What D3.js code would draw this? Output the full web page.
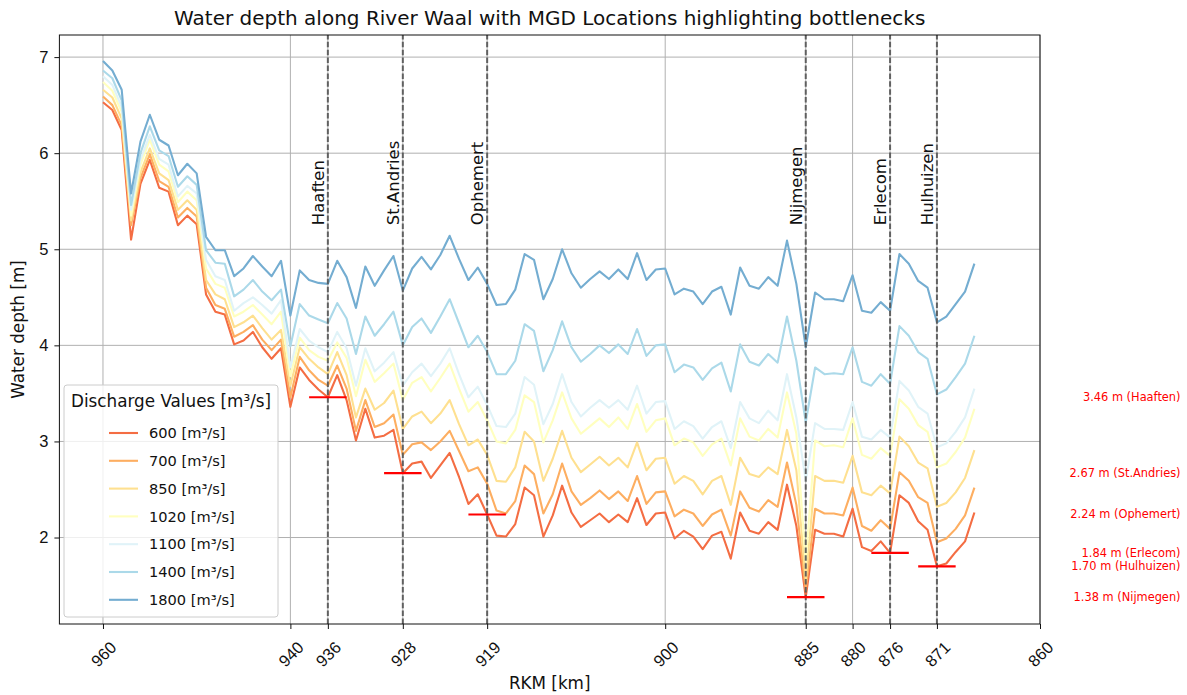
<!DOCTYPE html>
<html>
<head>
<meta charset="utf-8">
<script src="https://cdn.jsdelivr.net/npm/d3@7"></script>
<style>
    body { margin: 0; background: #fff; }
    svg { font-family: "DejaVu Sans", sans-serif; }
</style>
</head>
<body>
<div id="chart"></div>
<script>
'use strict';

// river kilometres, one point per km
const rkm = d3.range(960, 866, -1);

// water depth [m] per discharge
const d600 = [
    6.53, 6.45, 6.24, 5.10, 5.68, 5.93, 5.64, 5.60, 5.25, 5.35,
    5.26, 4.53, 4.35, 4.32, 4.01, 4.05, 4.14, 3.98, 3.86, 3.97,
    3.36, 3.77, 3.64, 3.54, 3.46, 3.69, 3.43, 3.01, 3.34, 3.04,
    3.06, 3.12, 2.67, 2.77, 2.79, 2.62, 2.75, 2.88, 2.63, 2.35,
    2.45, 2.24, 2.02, 2.01, 2.14, 2.52, 2.44, 2.01, 2.23, 2.54,
    2.26, 2.11, 2.18, 2.25, 2.16, 2.24, 2.16, 2.41, 2.13, 2.25,
    2.26, 1.99, 2.07, 2.01, 1.88, 2.02, 2.06, 1.78, 2.26, 2.07,
    2.04, 2.16, 2.08, 2.55, 2.12, 1.38, 2.08, 2.04, 2.04, 2.01,
    2.30, 1.90, 1.86, 1.96, 1.84, 2.44, 2.36, 2.17, 2.08, 1.70,
    1.73, 1.85, 1.96, 2.26
];
const d700 = [
    6.59, 6.50, 6.29, 5.25, 5.74, 5.99, 5.71, 5.65, 5.33, 5.43,
    5.34, 4.60, 4.42, 4.38, 4.09, 4.14, 4.21, 4.06, 3.95, 4.06,
    3.46, 3.88, 3.74, 3.64, 3.58, 3.79, 3.55, 3.11, 3.43, 3.15,
    3.19, 3.28, 2.86, 2.97, 2.99, 2.91, 3.00, 3.11, 2.90, 2.69,
    2.73, 2.56, 2.28, 2.25, 2.38, 2.75, 2.66, 2.25, 2.45, 2.77,
    2.48, 2.34, 2.41, 2.49, 2.40, 2.48, 2.38, 2.64, 2.35, 2.47,
    2.48, 2.22, 2.29, 2.25, 2.12, 2.24, 2.29, 2.02, 2.48, 2.31,
    2.27, 2.39, 2.32, 2.78, 2.34, 1.45, 2.30, 2.25, 2.25, 2.23,
    2.52, 2.12, 2.07, 2.18, 2.09, 2.68, 2.59, 2.42, 2.36, 1.95,
    1.99, 2.09, 2.23, 2.52
];
const d850 = [
    6.66, 6.58, 6.36, 5.30, 5.80, 6.05, 5.79, 5.72, 5.41, 5.51,
    5.41, 4.68, 4.53, 4.48, 4.19, 4.24, 4.31, 4.18, 4.06, 4.16,
    3.58, 3.98, 3.86, 3.77, 3.70, 3.93, 3.69, 3.25, 3.55, 3.33,
    3.40, 3.53, 3.13, 3.26, 3.31, 3.19, 3.29, 3.43, 3.18, 2.96,
    3.02, 2.86, 2.59, 2.58, 2.73, 3.10, 3.00, 2.59, 2.82, 3.11,
    2.83, 2.68, 2.76, 2.84, 2.75, 2.83, 2.73, 2.99, 2.70, 2.82,
    2.83, 2.56, 2.64, 2.59, 2.45, 2.59, 2.64, 2.34, 2.83, 2.66,
    2.63, 2.73, 2.66, 3.12, 2.70, 1.55, 2.64, 2.59, 2.59, 2.57,
    2.85, 2.47, 2.44, 2.54, 2.46, 3.05, 2.95, 2.78, 2.72, 2.32,
    2.36, 2.47, 2.62, 2.91
];
const d1020 = [
    6.74, 6.65, 6.43, 5.35, 5.88, 6.14, 5.88, 5.81, 5.49, 5.60,
    5.51, 4.80, 4.64, 4.60, 4.30, 4.35, 4.42, 4.32, 4.22, 4.35,
    3.68, 4.08, 3.95, 3.88, 3.84, 4.03, 3.87, 3.47, 3.85, 3.62,
    3.71, 3.81, 3.43, 3.61, 3.67, 3.52, 3.66, 3.81, 3.55, 3.31,
    3.41, 3.22, 3.00, 2.98, 3.12, 3.48, 3.41, 2.99, 3.22, 3.51,
    3.24, 3.08, 3.16, 3.24, 3.15, 3.25, 3.13, 3.39, 3.10, 3.22,
    3.24, 2.96, 3.03, 2.99, 2.85, 2.97, 3.03, 2.75, 3.24, 3.05,
    3.01, 3.13, 3.04, 3.51, 3.08, 1.75, 3.01, 2.95, 2.96, 2.94,
    3.24, 2.86, 2.82, 2.93, 2.85, 3.44, 3.34, 3.17, 3.10, 2.73,
    2.77, 2.89, 3.04, 3.34
];
const d1100 = [
    6.80, 6.71, 6.48, 5.41, 5.93, 6.19, 5.94, 5.88, 5.55, 5.66,
    5.58, 4.89, 4.72, 4.68, 4.36, 4.44, 4.50, 4.42, 4.33, 4.47,
    3.77, 4.17, 4.05, 3.98, 3.93, 4.14, 3.97, 3.58, 3.97, 3.73,
    3.82, 3.93, 3.58, 3.72, 3.81, 3.68, 3.81, 3.97, 3.70, 3.46,
    3.57, 3.38, 3.16, 3.15, 3.29, 3.67, 3.59, 3.18, 3.39, 3.70,
    3.41, 3.26, 3.35, 3.43, 3.35, 3.43, 3.33, 3.58, 3.29, 3.41,
    3.42, 3.13, 3.21, 3.16, 3.03, 3.15, 3.21, 2.93, 3.41, 3.24,
    3.19, 3.32, 3.22, 3.70, 3.25, 2.59, 3.19, 3.13, 3.13, 3.12,
    3.41, 3.05, 3.02, 3.12, 3.04, 3.63, 3.53, 3.36, 3.29, 2.94,
    2.98, 3.10, 3.25, 3.55
];
const d1400 = [
    6.86, 6.78, 6.55, 5.46, 6.00, 6.28, 6.03, 5.97, 5.65, 5.76,
    5.67, 4.99, 4.86, 4.85, 4.51, 4.58, 4.68, 4.56, 4.47, 4.58,
    3.99, 4.43, 4.31, 4.27, 4.23, 4.44, 4.28, 3.91, 4.30, 4.10,
    4.22, 4.35, 4.00, 4.19, 4.28, 4.13, 4.30, 4.48, 4.23, 3.98,
    4.10, 3.93, 3.70, 3.70, 3.84, 4.22, 4.15, 3.73, 3.95, 4.25,
    3.98, 3.83, 3.91, 4.00, 3.92, 4.01, 3.91, 4.17, 3.89, 4.00,
    4.01, 3.72, 3.80, 3.77, 3.64, 3.76, 3.82, 3.52, 4.01, 3.83,
    3.79, 3.91, 3.82, 4.30, 3.84, 3.20, 3.77, 3.70, 3.71, 3.70,
    3.98, 3.62, 3.58, 3.70, 3.60, 4.20, 4.10, 3.93, 3.86, 3.49,
    3.54, 3.67, 3.81, 4.10
];
const d1800 = [
    6.96, 6.86, 6.66, 5.58, 6.12, 6.40, 6.14, 6.08, 5.77, 5.89,
    5.79, 5.13, 4.99, 4.99, 4.72, 4.80, 4.93, 4.82, 4.72, 4.88,
    4.31, 4.78, 4.68, 4.65, 4.64, 4.88, 4.71, 4.39, 4.82, 4.62,
    4.78, 4.93, 4.57, 4.80, 4.92, 4.79, 4.94, 5.14, 4.90, 4.68,
    4.81, 4.64, 4.42, 4.43, 4.58, 4.95, 4.89, 4.48, 4.69, 5.00,
    4.75, 4.60, 4.69, 4.77, 4.69, 4.79, 4.69, 4.96, 4.68, 4.79,
    4.80, 4.53, 4.59, 4.56, 4.43, 4.56, 4.61, 4.32, 4.81, 4.62,
    4.59, 4.71, 4.62, 5.09, 4.64, 3.98, 4.55, 4.48, 4.48, 4.46,
    4.73, 4.36, 4.34, 4.45, 4.36, 4.95, 4.85, 4.67, 4.60, 4.24,
    4.30, 4.43, 4.56, 4.85
];

const discharges = [600, 700, 850, 1020, 1100, 1400, 1800];
const depths = [d600, d700, d850, d1020, d1100, d1400, d1800];
const colors = ['#f46d43', '#fdae61', '#fee090', '#ffffbf', '#e0f3f8', '#abd9e9', '#74add1'];

// MGD locations and their bottleneck depth (600 m3/s)
const locNames = ['Haaften', 'St.Andries', 'Ophemert', 'Nijmegen', 'Erlecom', 'Hulhuizen'];
const locKm = [936, 928, 919, 885, 876, 871];
const locDepth = [3.46, 2.67, 2.24, 1.38, 1.84, 1.70];

// right-hand summary, top to bottom
const noteOrder = [0, 1, 2, 4, 5, 3];

const xTicks = [960, 940, 936, 928, 919, 900, 885, 880, 876, 871, 860];
const yTicks = [2, 3, 4, 5, 6, 7];

const width = 1187;
const height = 695;
const margin = { left: 59.4, right: 147, top: 35, bottom: 71 };

const x = d3.scaleLinear()
    .domain([964.65, 860])
    .range([margin.left, width - margin.right]);

const y = d3.scaleLinear()
    .domain([1.10, 7.23])
    .range([height - margin.bottom, margin.top]);

const svg = d3.select('#chart').append('svg')
    .attr('width', width)
    .attr('height', height);

// grid
svg.append('g')
    .attr('class', 'grid')
    .selectAll('line.gx')
    .data(xTicks)
  .enter().append('line')
    .attr('x1', d => x(d))
    .attr('x2', d => x(d))
    .attr('y1', y.range()[0])
    .attr('y2', y.range()[1])
    .attr('stroke', '#b0b0b0')
    .attr('stroke-width', 1);

svg.select('g.grid')
    .selectAll('line.gy')
    .data(yTicks)
  .enter().append('line')
    .attr('x1', x.range()[0])
    .attr('x2', x.range()[1])
    .attr('y1', d => y(d))
    .attr('y2', d => y(d))
    .attr('stroke', '#b0b0b0')
    .attr('stroke-width', 1);

// depth lines
const line = d3.line()
    .x((d, i) => x(rkm[i]))
    .y(d => y(d));

svg.append('g')
    .attr('class', 'series')
    .selectAll('path')
    .data(depths)
  .enter().append('path')
    .attr('d', line)
    .attr('fill', 'none')
    .attr('stroke', (d, i) => colors[i])
    .attr('stroke-width', 2.1)
    .attr('stroke-linejoin', 'round');

// MGD location markers
const locs = svg.append('g').attr('class', 'locations');

locs.selectAll('line.mgd')
    .data(locKm)
  .enter().append('line')
    .attr('x1', d => x(d))
    .attr('x2', d => x(d))
    .attr('y1', y.range()[0])
    .attr('y2', y.range()[1])
    .attr('stroke', '#555')
    .attr('stroke-width', 2)
    .attr('stroke-dasharray', '5.5,2.4')
    .attr('opacity', 0.9);

locs.selectAll('line.min')
    .data(locKm)
  .enter().append('line')
    .attr('x1', d => x(d + 2))
    .attr('x2', d => x(d - 2))
    .attr('y1', (d, i) => y(locDepth[i]))
    .attr('y2', (d, i) => y(locDepth[i]))
    .attr('stroke', '#ff0000')
    .attr('stroke-width', 2.1);

locs.selectAll('text.name')
    .data(locNames)
  .enter().append('text')
    .attr('transform', (d, i) => `translate(${x(locKm[i]) - 4}, ${y(5.25)}) rotate(-90)`)
    .attr('font-size', 16.5)
    .attr('fill', '#111')
    .text(d => d);

// depth notes right of the axes
svg.append('g')
    .selectAll('text')
    .data(noteOrder)
  .enter().append('text')
    .attr('x', x(845))
    .attr('y', d => y(locDepth[d]))
    .attr('dy', '0.35em')
    .attr('text-anchor', 'end')
    .attr('font-size', 11.4)
    .attr('fill', '#ff0000')
    .text(d => `${locDepth[d].toFixed(2)} m (${locNames[d]})`);

// axes
const xAxis = svg.append('g')
    .attr('transform', `translate(0, ${y.range()[0]})`)
    .call(d3.axisBottom(x).tickValues(xTicks).tickSize(5).tickSizeOuter(0));

xAxis.selectAll('text')
    .attr('font-size', 16.5)
    .attr('fill', '#111')
    .attr('text-anchor', 'middle')
    .attr('y', 0)
    .attr('dy', 0)
    .attr('transform', 'translate(0, 30) rotate(-45)')
    .attr('dominant-baseline', 'central');

const yAxis = svg.append('g')
    .attr('transform', `translate(${x.range()[0]}, 0)`)
    .call(d3.axisLeft(y).tickValues(yTicks).tickFormat(d3.format('d')).tickSize(5).tickSizeOuter(0));

yAxis.selectAll('text')
    .attr('font-size', 16.5)
    .attr('fill', '#111')
    .attr('x', -11);

svg.selectAll('.domain').remove();
svg.selectAll('.tick line').attr('stroke', '#111');

// frame
svg.append('rect')
    .attr('x', x.range()[0])
    .attr('y', y.range()[1])
    .attr('width', x.range()[1] - x.range()[0])
    .attr('height', y.range()[0] - y.range()[1])
    .attr('fill', 'none')
    .attr('stroke', '#111')
    .attr('stroke-width', 1);

// labels
svg.append('text')
    .attr('x', (x.range()[0] + x.range()[1]) / 2)
    .attr('y', 25)
    .attr('text-anchor', 'middle')
    .attr('font-size', 20)
    .attr('fill', '#111')
    .text('Water depth along River Waal with MGD Locations highlighting bottlenecks');

svg.append('text')
    .attr('x', (x.range()[0] + x.range()[1]) / 2)
    .attr('y', 689)
    .attr('text-anchor', 'middle')
    .attr('font-size', 16.8)
    .attr('fill', '#111')
    .text('RKM [km]');

svg.append('text')
    .attr('transform', `translate(24, ${(y.range()[0] + y.range()[1]) / 2}) rotate(-90)`)
    .attr('text-anchor', 'middle')
    .attr('font-size', 16.8)
    .attr('fill', '#111')
    .text('Water depth [m]');

// legend
const legend = svg.append('g')
    .attr('transform', 'translate(64, 385)');

legend.append('rect')
    .attr('width', 214)
    .attr('height', 232)
    .attr('rx', 3)
    .attr('fill', '#fff')
    .attr('fill-opacity', 0.8)
    .attr('stroke', '#cccccc');

legend.append('text')
    .attr('x', 7)
    .attr('y', 22)
    .attr('font-size', 16.8)
    .attr('fill', '#111')
    .text('Discharge Values [m³/s]');

const items = legend.selectAll('g.item')
    .data(discharges)
  .enter().append('g')
    .attr('transform', (d, i) => `translate(0, ${48 + i * 27.8})`);

items.append('line')
    .attr('x1', 45)
    .attr('x2', 74)
    .attr('stroke', (d, i) => colors[i])
    .attr('stroke-width', 2.1);

items.append('text')
    .attr('x', 85)
    .attr('dy', '0.35em')
    .attr('font-size', 14.6)
    .attr('fill', '#111')
    .text(d => `${d} [m³/s]`);
</script>
</body>
</html>
